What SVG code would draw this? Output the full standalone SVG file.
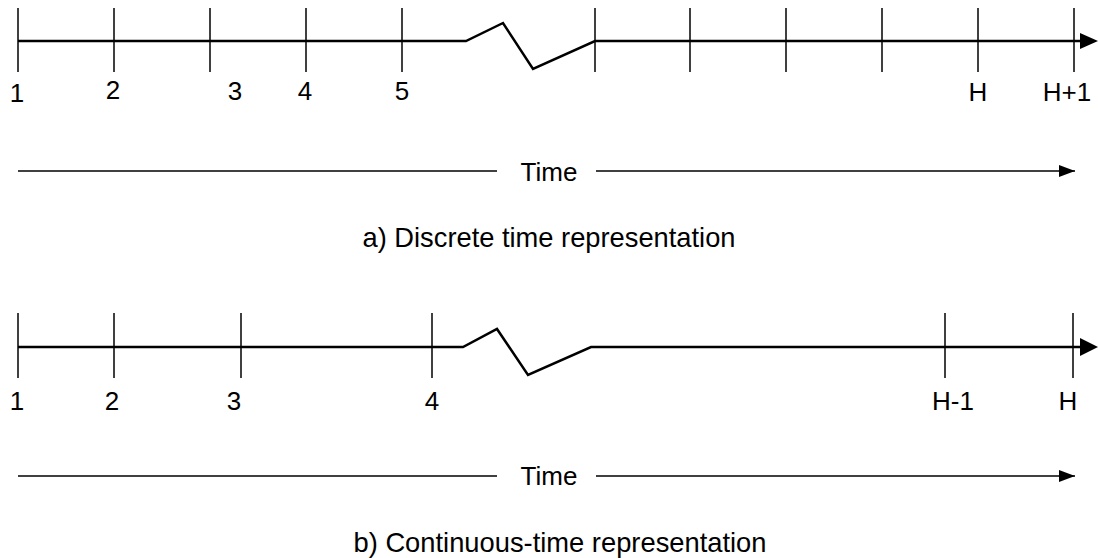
<svg xmlns="http://www.w3.org/2000/svg" width="1098" height="558" viewBox="0 0 1098 558">
<style>
.ax{fill:none;stroke:#000;stroke-width:2.5;stroke-linejoin:miter}
.tk{stroke:#000;stroke-width:1.5}
.tl{stroke:#000;stroke-width:1.5}
text{font-family:"Liberation Sans",Arial,sans-serif;font-size:26px;fill:#000;text-anchor:middle}
.cap{font-size:28px}
</style>
<defs>
<marker id="ah2" markerWidth="16" markerHeight="12" refX="16" refY="6" orient="auto" markerUnits="userSpaceOnUse">
<path d="M0,0 L16,6 L0,12 Z" fill="#000"/>
</marker>
</defs>
<g id="timeline-a">
<path class="ax" d="M18,41 L466,41 L503,23 L533,69 L595,41 L1080,41"/>
<path d="M1080,33 L1098,41 L1080,49 Z" fill="#000"/>
<g class="tk">
<line x1="18" y1="8" x2="18" y2="72"/>
<line x1="114" y1="8" x2="114" y2="72"/>
<line x1="210" y1="8" x2="210" y2="72"/>
<line x1="306" y1="8" x2="306" y2="72"/>
<line x1="402" y1="8" x2="402" y2="72"/>
<line x1="595" y1="8" x2="595" y2="72"/>
<line x1="690" y1="8" x2="690" y2="72"/>
<line x1="786" y1="8" x2="786" y2="72"/>
<line x1="882" y1="8" x2="882" y2="72"/>
<line x1="978" y1="8" x2="978" y2="72"/>
<line x1="1074" y1="8" x2="1074" y2="72"/>
</g>
<text x="17" y="102">1</text>
<text x="113" y="99">2</text>
<text x="235" y="100">3</text>
<text x="305" y="100">4</text>
<text x="402" y="100">5</text>
<text x="978" y="101">H</text>
<text x="1067" y="101">H+1</text>
</g>
<g id="time-a">
<line class="tl" x1="18" y1="171" x2="497" y2="171"/>
<line class="tl" x1="596" y1="171" x2="1075" y2="171" marker-end="url(#ah2)"/>
<text x="549" y="181">Time</text>
</g>
<text id="caption-a" class="cap" x="549" y="247" textLength="373" lengthAdjust="spacingAndGlyphs">a) Discrete time representation</text>
<g id="timeline-b">
<path class="ax" d="M18,347 L463,347 L497,329 L528,375 L591,347 L1080,347"/>
<path d="M1080,338 L1098,347 L1080,356 Z" fill="#000"/>
<g class="tk">
<line x1="18" y1="313" x2="18" y2="378"/>
<line x1="114" y1="313" x2="114" y2="378"/>
<line x1="241" y1="313" x2="241" y2="378"/>
<line x1="432" y1="313" x2="432" y2="378"/>
<line x1="945" y1="313" x2="945" y2="378"/>
<line x1="1073" y1="313" x2="1073" y2="378"/>
</g>
<text x="17" y="410">1</text>
<text x="112" y="410">2</text>
<text x="234" y="410">3</text>
<text x="432" y="410">4</text>
<text x="953" y="410">H-1</text>
<text x="1068" y="410">H</text>
</g>
<g id="time-b">
<line class="tl" x1="18" y1="476" x2="497" y2="476"/>
<line class="tl" x1="596" y1="476" x2="1075" y2="476" marker-end="url(#ah2)"/>
<text x="549" y="485">Time</text>
</g>
<text id="caption-b" class="cap" x="560" y="552" textLength="413" lengthAdjust="spacingAndGlyphs">b) Continuous-time representation</text>
</svg>
